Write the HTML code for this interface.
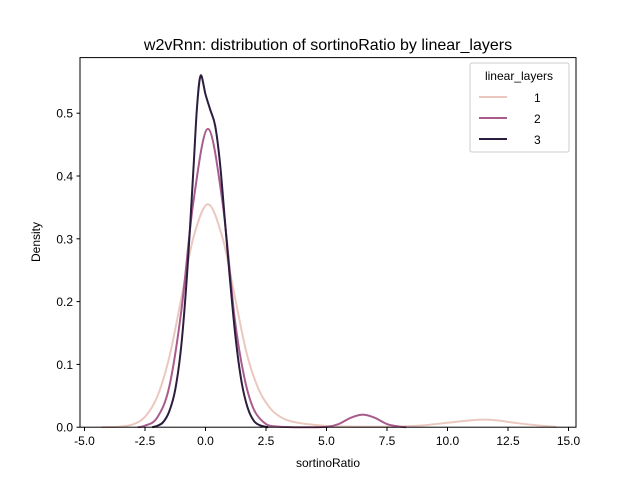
<!DOCTYPE html>
<html><head><meta charset="utf-8"><style>
body{margin:0;background:#fff}
svg{font-family:"Liberation Sans","DejaVu Sans",sans-serif}
</style></head><body>
<svg id="chart" width="640" height="480">
<rect width="640" height="480" fill="#fff"/>
<text x="328" y="50" font-size="16" text-anchor="middle">w2vRnn: distribution of sortinoRatio by linear_layers</text>
<g id="series"></g>
<g id="axes"></g>
<text x="328" y="467" font-size="12" text-anchor="middle">sortinoRatio</text>
<text x="40" y="242" font-size="12" text-anchor="middle" transform="rotate(-90 40 242)">Density</text>
<g>
<rect x="470" y="63" width="99" height="89" fill="#fff" fill-opacity="0.8" stroke="#ccc" rx="2"/>
<text x="519" y="80" font-size="12" text-anchor="middle">linear_layers</text>
<g><line x1="479" y1="97" x2="507" y2="97" stroke="#ebc8bf" stroke-width="2"/><text x="534" y="102" font-size="12">1</text></g>
<g><line x1="479" y1="118" x2="507" y2="118" stroke="#a85c8c" stroke-width="2"/><text x="534" y="123" font-size="12">2</text></g>
<g><line x1="479" y1="139" x2="507" y2="139" stroke="#2b1d3d" stroke-width="2"/><text x="534" y="144" font-size="12">3</text></g>
</g>
</svg>
<script>
const s1x=[-4.3,-4,-3.5,-3,-2.5,-2,-1.5,-1,-0.5,0.1,0.7,1.2,1.7,2.2,2.7,3.2,3.7,4.2,5,6,7,8,9,10,11,11.5,12,13,14,14.5];
const s1y=[0,0.0002,0.001,0.0045,0.0165,0.048,0.111,0.205,0.302,0.355,0.302,0.21,0.118,0.06,0.029,0.014,0.008,0.005,0.002,0.001,0.0007,0.0012,0.003,0.007,0.011,0.012,0.011,0.006,0.002,0.0005];
const s2x=[-2.8,-2.5,-2,-1.5,-1,-0.5,0.1,0.7,1.2,1.6,2,2.5,3,3.5,4,5,5.5,6,6.5,7,7.5,8,8.3];
const s2y=[0,0.0024,0.015,0.064,0.185,0.359,0.475,0.359,0.175,0.08,0.028,0.005,0.001,0.0002,0,0.0005,0.005,0.015,0.02,0.015,0.005,0.001,0];
const s3x=[-2.2,-2,-1.75,-1.5,-1.25,-1,-0.75,-0.5,-0.35,-0.2,0,0.2,0.4,0.6,0.8,1,1.25,1.5,1.75,2,2.25,2.5,2.6];
const s3y=[0,0.002,0.008,0.025,0.06,0.13,0.25,0.41,0.51,0.56,0.53,0.505,0.48,0.42,0.33,0.24,0.14,0.07,0.03,0.01,0.003,0.0005,0];
const xTicks=[-5,-2.5,0,2.5,5,7.5,10,12.5,15];
const yTicks=[0,0.1,0.2,0.3,0.4,0.5];
const NS="http://www.w3.org/2000/svg";
const X=v=>205.5+v*24.2, Y=v=>427.2-v*628;
function mk(t,a,p){const e=document.createElementNS(NS,t);for(const k in a)e.setAttribute(k,a[k]);p.appendChild(e);return e;}
function path(xs,ys){const P=xs.map((x,i)=>[X(x),Y(ys[i])]);let d=`M${P[0][0]},${P[0][1]}`;
for(let i=0;i<P.length-1;i++){const p0=P[Math.max(0,i-1)],p1=P[i],p2=P[i+1],p3=P[Math.min(P.length-1,i+2)];
d+=` C${p1[0]+(p2[0]-p0[0])/6},${p1[1]+(p2[1]-p0[1])/6} ${p2[0]-(p3[0]-p1[0])/6},${p2[1]-(p3[1]-p1[1])/6} ${p2[0]},${p2[1]}`;}return d;}
const sg=document.getElementById('series');
[[s1x,s1y,'#ebc8bf','kde-line-1'],[s2x,s2y,'#a85c8c','kde-line-2'],[s3x,s3y,'#2b1d3d','kde-line-3']].forEach(([xs,ys,c,n])=>{
const p=mk('path',{d:path(xs,ys),fill:'none',stroke:c,'stroke-width':2},sg);

});
const ax=document.getElementById('axes');
mk('rect',{x:80,y:57.6,width:496,height:369.6,fill:'none',stroke:'#000','stroke-width':1},ax);
xTicks.forEach(t=>{mk('line',{x1:X(t),x2:X(t),y1:427.2,y2:431,stroke:'#000'},ax);
const tx=mk('text',{x:X(t),y:445,'font-size':12,'text-anchor':'middle'},ax);tx.textContent=t.toFixed(1);

});
yTicks.forEach(t=>{mk('line',{x1:76.5,x2:80,y1:Y(t),y2:Y(t),stroke:'#000'},ax);
const tx=mk('text',{x:73,y:Y(t)+4.5,'font-size':12,'text-anchor':'end'},ax);tx.textContent=t.toFixed(1);

});
</script>
</body></html>
